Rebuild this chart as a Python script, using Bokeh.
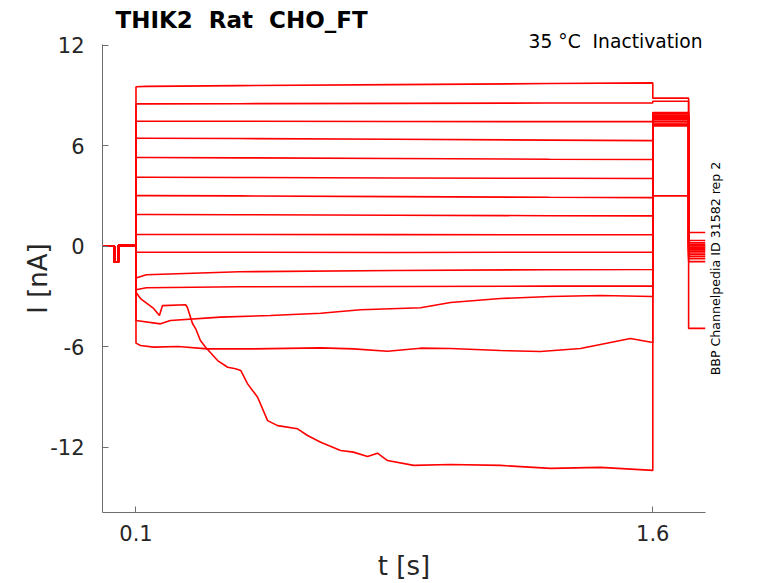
from bokeh.plotting import figure
from bokeh.models import Range1d, FixedTicker, Title, Label
from bokeh.layouts import row
from bokeh.embed import file_html
from bokeh.resources import INLINE

# ---------------- data ----------------
# pre-step baseline (shared by all sweeps)
t_pre = [0.003, 0.0375, 0.0376, 0.049, 0.0492, 0.1]
i_pre = [0.0, 0.0, -0.95, -0.95, 0.05, 0.05]

t_on = 0.1       # step onset [s]
t_off = 1.6      # step end [s]
t_tail = 1.704   # end of tail 1 [s]
t_end = 1.753    # end of record [s]

# flat sweeps: knots during step
flat_t = [0.1, 0.13, 0.4, 0.85, 1.3, 1.6]
flat_i = [
    [9.51, 9.53, 9.58, 9.64, 9.70, 9.74],
    [8.49, 8.49, 8.50, 8.52, 8.54, 8.55],
    [7.45, 7.45, 7.45, 7.44, 7.43, 7.43],
    [6.44, 6.44, 6.42, 6.38, 6.33, 6.30],
    [5.29, 5.29, 5.27, 5.23, 5.19, 5.17],
    [4.11, 4.11, 4.10, 4.07, 4.05, 4.04],
    [3.02, 3.02, 3.00, 2.96, 2.92, 2.90],
    [1.89, 1.89, 1.88, 1.85, 1.82, 1.81],
    [0.70, 0.70, 0.70, 0.69, 0.68, 0.68],
    [-0.36, -0.36, -0.36, -0.37, -0.36, -0.36],
    [-1.90, -1.70, -1.52, -1.45, -1.40, -1.39],
    [-2.60, -2.48, -2.42, -2.40, -2.38, -2.38],
]

# slowly rising sweep
rise_t = [0.1, 0.171, 0.2, 0.345, 0.49, 0.636, 0.752, 0.926, 1.013, 1.158, 1.303, 1.448, 1.6]
rise_i = [-4.43, -4.63, -4.43, -4.23, -4.13, -4.0, -3.79, -3.67, -3.36, -3.12, -3.0, -2.94, -3.0]

# run-down sweep
drop_t = [0.1, 0.113, 0.151, 0.168, 0.177, 0.244, 0.249, 0.264, 0.273, 0.287, 0.302,
          0.337, 0.366, 0.389, 0.404, 0.424, 0.453, 0.482, 0.511, 0.569, 0.598, 0.636,
          0.694, 0.731, 0.772, 0.801, 0.830, 0.906, 1.013, 1.158, 1.303, 1.448, 1.6]
drop_i = [-2.74, -3.12, -3.71, -4.13, -3.54, -3.49, -3.64, -4.61, -4.91, -5.62, -6.02,
          -6.82, -7.22, -7.31, -7.41, -8.21, -9.01, -10.4, -10.7, -10.89, -11.29, -11.69,
          -12.18, -12.28, -12.54, -12.34, -12.78, -13.07, -13.02, -13.07, -13.25, -13.19, -13.37]

# bottom sweep
low_t = [0.1, 0.113, 0.151, 0.223, 0.307, 0.441, 0.636, 0.731, 0.830, 0.926, 1.013,
         1.158, 1.274, 1.390, 1.477, 1.535, 1.6]
low_i = [-5.78, -5.92, -6.02, -5.98, -6.12, -6.12, -6.06, -6.12, -6.26, -6.08, -6.10,
         -6.22, -6.28, -6.10, -5.74, -5.50, -5.74]

# tail levels (1.6 -> 1.704) and final levels (1.704 -> end), per sweep
# order: 12 flat sweeps, rising, run-down, bottom
tail_i = [8.83, 8.65, 7.97, 7.90, 7.82, 7.76, 7.70, 7.62, 7.55, 7.45, 7.35, 7.27, 7.22, 3.0, 7.18]
final_i = [0.82, 0.34, 0.20, 0.10, 0.02, -0.06, -0.14, -0.22, -0.30, -0.40, -0.50, -0.62,
           -0.75, -4.90, -0.92]

# axis ticks
y_ticks = [-12, -6, 0, 6, 12]
x_ticks = [0.1, 1.6]

NBSP = "\u00a0"
title_text = "THIK2" + NBSP + " Rat" + NBSP + " CHO_FT"
cond_text = "35 °C" + NBSP + " Inactivation"
id_text = "BBP Channelpedia ID 31582 rep 2"

# ---------------- main figure ----------------
FONT = "DejaVu Sans"
H = 583
p = figure(width=708, height=H, output_backend="svg", toolbar_location=None,
           x_range=Range1d(0.0028, 1.753), y_range=Range1d(-15.88, 12.03),
           min_border_left=102, min_border_right=3, min_border_top=44, min_border_bottom=71)
p.outline_line_color = None
p.xgrid.visible = False
p.ygrid.visible = False
p.background_fill_color = "white"
p.border_fill_color = "white"

sweeps = [(flat_t, v) for v in flat_i] + [(rise_t, rise_i), (drop_t, drop_i), (low_t, low_i)]
for k, (ts, vs) in enumerate(sweeps):
    xs = list(t_pre) + [t_on] + list(ts) + [t_off, t_tail, t_tail, t_end]
    ys = list(i_pre) + [vs[0]] + list(vs) + [tail_i[k], tail_i[k], final_i[k], final_i[k]]
    p.line(xs, ys, line_color="#ff0000", line_width=1.6)

axis_color = "#6e6e6e"
text_color = "#262626"
for ax in (p.xaxis[0], p.yaxis[0]):
    ax.axis_line_color = axis_color
    ax.major_tick_line_color = axis_color
    ax.major_tick_in = 6
    ax.major_tick_out = 0
    ax.minor_tick_line_color = None
    ax.major_label_text_font = FONT
    ax.major_label_text_font_size = "21px"
    ax.major_label_text_color = text_color
    ax.axis_label_text_font = FONT
    ax.axis_label_text_font_size = "26px"
    ax.axis_label_text_font_style = "normal"
    ax.axis_label_text_color = text_color

p.yaxis.ticker = FixedTicker(ticks=y_ticks)
p.yaxis.major_label_overrides = {v: str(v) for v in y_ticks}
p.xaxis.ticker = FixedTicker(ticks=x_ticks)
p.xaxis.major_label_overrides = {v: str(v) for v in x_ticks}
p.yaxis.axis_label = "I [nA]"
p.xaxis.axis_label = "t [s]"
p.yaxis.major_label_standoff = 18
p.xaxis.major_label_standoff = 12
p.yaxis.axis_label_standoff = -6
p.xaxis.axis_label_standoff = 7

# condition text: right-aligned title sitting on (and dipping into) the frame top
p.add_layout(Title(text=cond_text, align="right", offset=3, standoff=-15,
                   text_font=FONT, text_font_size="18.7px", text_font_style="normal",
                   text_color="black"), "above")

# main title (outermost)
p.title.text = title_text
p.title.align = "left"
p.title.offset = 13
p.title.text_font = FONT
p.title.text_font_size = "23px"
p.title.text_font_style = "bold"
p.title.text_color = "black"
p.title.standoff = 8

# ---------------- narrow side strip with the rotated identifier ----------------
q = figure(width=70, height=H, output_backend="svg", toolbar_location=None,
           x_range=Range1d(0, 70), y_range=Range1d(0, H),
           x_axis_location=None, y_axis_location=None,
           min_border_left=0, min_border_right=0, min_border_top=0, min_border_bottom=0)
q.outline_line_color = None
q.xgrid.visible = False
q.ygrid.visible = False
q.background_fill_color = "white"
q.border_fill_color = "white"
q.add_layout(Label(x=7, y=H - 279, text=id_text, text_font=FONT, text_font_size="12.6px",
                   text_color="black", text_align="center", text_baseline="middle",
                   angle=1.5707963))

open("out.html", "w").write(file_html(row(p, q), INLINE))
